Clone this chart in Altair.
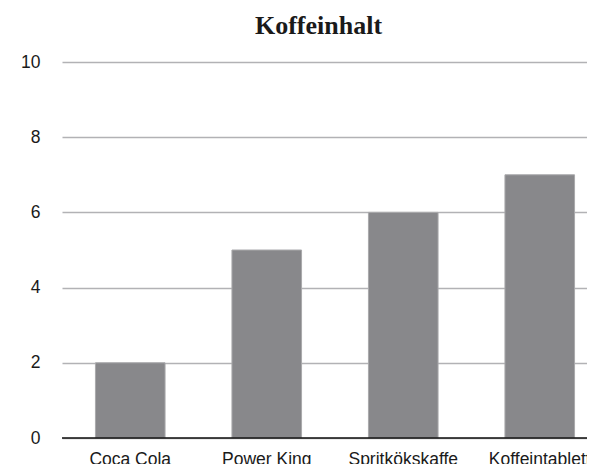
import altair as alt
import pandas as pd

categories = ["Coca Cola", "Power King", "Spritkökskaffe", "Koffeintablett"]
values = [2, 5, 6, 7]

df = pd.DataFrame({"kategori": categories, "varde": values})

PLOT_W = 525

chart = alt.Chart(df).mark_bar(
    color="#88888b", stroke="#a9a9ac", strokeWidth=1
).encode(
    x=alt.X("kategori:N", sort=categories, title=None,
            scale=alt.Scale(range=[0, 546], paddingInner=0.49, paddingOuter=0.245),
            axis=alt.Axis(labelAngle=0, labelFont="Liberation Sans", labelFontSize=17.5,
                          labelColor="#1a1a1a", labelPadding=12, ticks=False,
                          domain=False, grid=False, labelOverlap=False, labelBound=False)),
    y=alt.Y("varde:Q", title=None,
            scale=alt.Scale(domain=[0, 10], nice=False),
            axis=alt.Axis(values=[0, 2, 4, 6, 8, 10], labelFont="Liberation Sans",
                          labelFontSize=17.5, labelColor="#1a1a1a", labelPadding=22,
                          ticks=False, domain=False, grid=True,
                          gridColor="#b2b2b5", gridWidth=1.5)),
)

baseline = alt.Chart(pd.DataFrame({"y": [0]})).mark_rule(
    color="#111111", strokeWidth=1.6
).encode(y="y:Q", x=alt.value(0), x2=alt.value(546))

final = alt.layer(chart, baseline).properties(
    width=PLOT_W,
    height=376,
    title=alt.TitleParams("Koffeinhalt", font="Liberation Serif", fontSize=26,
                          fontWeight="bold", color="#1a1a1a", dx=-6, offset=14),
    autosize=alt.AutoSizeParams(type="none"),
    padding={"left": 54, "top": 54, "right": 0, "bottom": 26},
).configure_view(stroke=None)

final.save("out.html", embed_options={"renderer": "svg", "actions": False})
